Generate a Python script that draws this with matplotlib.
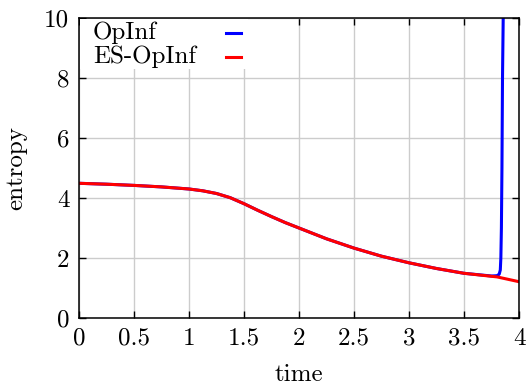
import numpy as np
import matplotlib.pyplot as plt
from matplotlib.patches import Rectangle

plt.rcParams['font.family'] = 'cmr10'
plt.rcParams['axes.formatter.use_mathtext'] = True
plt.rcParams['mathtext.fontset'] = 'cm'

# entropy vs time
t_es = [0.0, 0.25, 0.5, 0.75, 1.0, 1.125, 1.25, 1.375, 1.5, 1.625, 1.75, 1.875,
        2.0, 2.25, 2.5, 2.75, 3.0, 3.25, 3.5, 3.75, 3.8, 4.0]
s_es = [4.49, 4.46, 4.42, 4.37, 4.30, 4.24, 4.15, 4.01, 3.81, 3.59, 3.38, 3.18,
        3.0, 2.64, 2.33, 2.06, 1.84, 1.65, 1.49, 1.39, 1.37, 1.21]

t_op = [0.0, 0.25, 0.5, 0.75, 1.0, 1.125, 1.25, 1.375, 1.5, 1.625, 1.75, 1.875,
        2.0, 2.25, 2.5, 2.75, 3.0, 3.25, 3.5, 3.75, 3.8, 3.82, 3.83, 3.835,
        3.84, 3.845, 3.85, 3.858]
s_op = [4.49, 4.46, 4.42, 4.37, 4.30, 4.24, 4.15, 4.01, 3.81, 3.59, 3.38, 3.18,
        3.0, 2.64, 2.33, 2.06, 1.84, 1.65, 1.49, 1.40, 1.41, 1.46, 1.6, 2.0,
        3.0, 5.0, 8.0, 10.5]

labels = ['OpInf', 'ES-OpInf']
colors = ['blue', 'red']
fs = 18

fig = plt.figure(figsize=(5.28, 3.89), dpi=100)
ax = fig.add_axes([79/528, 1-318/389, 440/528, 300/389])

ax.plot(t_op, s_op, color=colors[0], lw=2.2, solid_joinstyle='round')
ax.plot(t_es, s_es, color=colors[1], lw=2.2)

ax.set_xlim(0, 4)
ax.set_ylim(0, 10)
ax.set_xticks(np.arange(0, 4.01, 0.5))
ax.set_xticklabels(['0', '0.5', '1', '1.5', '2', '2.5', '3', '3.5', '4'])
ax.set_yticks([0, 2, 4, 6, 8, 10])
ax.set_yticklabels(['0', '2', '4', '6', '8', '10'])
ax.tick_params(direction='in', top=True, right=True, length=5, width=1,
               labelsize=fs, pad=7)
ax.grid(True, color='#cccccc', lw=1)
ax.set_axisbelow(True)
for s in ax.spines.values():
    s.set_linewidth(1.1)

ax.set_xlabel('time', fontsize=fs, labelpad=10)
ax.set_ylabel('entropy', fontsize=fs, labelpad=12)

# gnuplot-style key: text left, sample line on the right
ax.add_patch(Rectangle((0.003, 0.83), 0.38, 0.165, transform=ax.transAxes,
                       facecolor='white', edgecolor='none', zorder=2.5))
for i, (lab, c) in enumerate(zip(labels, colors)):
    y = 0.95 - 0.08 * i
    ax.text(0.032, y, lab, transform=ax.transAxes, fontsize=fs,
            va='center', ha='left', zorder=3)
    ax.plot([0.334, 0.368], [y, y], transform=ax.transAxes, color=c,
            lw=2.2, clip_on=False, zorder=3)

fig.savefig('out.png', dpi=100)
